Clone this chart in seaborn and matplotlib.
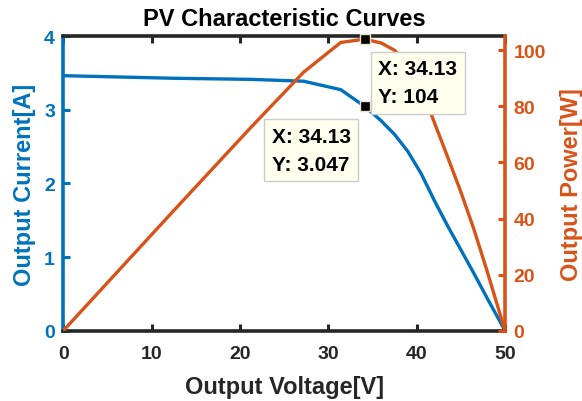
import matplotlib
matplotlib.use("Agg")
import matplotlib.pyplot as plt
import seaborn as sns
import pandas as pd

# PV module measurements
voltage = [0.0, 12.4, 21.2, 27.2, 31.4, 34.13, 36.0, 37.5, 39.0, 40.5, 42.0, 43.5, 45.0, 46.5, 48.0, 50.0]
current = [3.465, 3.43, 3.415, 3.39, 3.275, 3.047, 2.85, 2.667, 2.436, 2.136, 1.769, 1.425, 1.10, 0.774, 0.4375, 0.0]
power = [0.0, 42.5, 72.4, 92.2, 102.8, 104.0, 102.6, 100.0, 95.0, 86.5, 74.3, 62.0, 49.5, 36.0, 21.0, 0.0]
mpp_index = 5  # maximum power point

x_ticks = [0, 10, 20, 30, 40, 50]
i_ticks = [0, 1, 2, 3, 4]
p_ticks = [0, 20, 40, 60, 80, 100]

title = "PV Characteristic Curves"
x_label = "Output Voltage[V]"
i_label = "Output Current[A]"
p_label = "Output Power[W]"

BLUE = "#0072BD"
ORANGE = "#D95319"
DARK = "#262626"
TIP_FACE = "#FFFFEE"
TIP_EDGE = "#CCCCCC"

sns.set_style("white")
plt.rcParams["font.family"] = ["Liberation Sans", "DejaVu Sans"]
plt.rcParams["font.weight"] = "bold"

df = pd.DataFrame({"V": voltage, "I": current, "P": power})

fig = plt.figure(figsize=(5.82, 4.02), dpi=100)
ax = fig.add_axes([0.1088, 0.1749, 0.7589, 0.7323])
ax2 = ax.twinx()

sns.lineplot(data=df, x="V", y="I", ax=ax, color=BLUE, linewidth=2.4)
sns.lineplot(data=df, x="V", y="P", ax=ax2, color=ORANGE, linewidth=2.4)

ax.set_xlim(0, 50)
ax.set_ylim(0, 4)
ax2.set_ylim(0, 105)
ax.set_xticks(x_ticks)
ax.set_yticks(i_ticks)
ax2.set_yticks(p_ticks)

# spines
sw = 2.6
for s in ("top", "bottom"):
    ax.spines[s].set_color(DARK)
    ax.spines[s].set_linewidth(sw)
    ax2.spines[s].set_visible(False)
ax.spines["left"].set_color(BLUE)
ax.spines["left"].set_linewidth(sw)
ax.spines["right"].set_visible(False)
ax2.spines["left"].set_visible(False)
ax2.spines["right"].set_color(ORANGE)
ax2.spines["right"].set_linewidth(sw)

ax.tick_params(axis="x", direction="in", top=True, bottom=True, length=5, width=2.2,
               colors=DARK, labelsize=14, pad=10.5)
ax.tick_params(axis="y", direction="in", length=5, width=2.2, colors=BLUE,
               labelsize=14, pad=6)
ax2.tick_params(axis="y", direction="in", length=5, width=2.2, colors=ORANGE,
                labelsize=14, pad=6)
for lab in ax.get_xticklabels() + ax.get_yticklabels() + ax2.get_yticklabels():
    lab.set_fontweight("bold")

ax.set_xlabel(x_label, fontsize=17, fontweight="bold", color=DARK)
ax.set_ylabel(i_label, fontsize=17, fontweight="bold", color=BLUE)
ax2.set_ylabel(p_label, fontsize=17, fontweight="bold", color=ORANGE)
ax.xaxis.set_label_coords(0.5, -0.152)
ax.yaxis.set_label_coords(-0.062, 0.5)
ax2.yaxis.set_label_coords(1.125, 0.5)
ax.set_title(title, fontsize=17, fontweight="bold", color="black", pad=8)

# data tips at the maximum power point
vm = voltage[mpp_index]
im = current[mpp_index]
pm = power[mpp_index]
tip_box = dict(boxstyle="square,pad=0.36", facecolor=TIP_FACE, edgecolor=TIP_EDGE, linewidth=1)

ax2.plot([vm], [pm], marker="s", markersize=7, color="black",
         markeredgecolor="#E6E6C8", markeredgewidth=1, clip_on=False, zorder=6)
ax2.plot([vm], [im], transform=ax.transData, marker="s", markersize=7, color="black",
         markeredgecolor="#E6E6C8", markeredgewidth=1, clip_on=False, zorder=6)

ax2.annotate(f"X: {vm:.4g}\nY: {pm:.4g}", xy=(vm, pm), xycoords=ax2.transData,
             xytext=(9.5, -14.5), textcoords="offset points", ha="left", va="top",
             multialignment="left",
             fontsize=15, fontweight="bold", color="black", linespacing=1.6,
             bbox=tip_box, zorder=7, annotation_clip=False)
ax2.annotate(f"X: {vm:.4g}\nY: {im:.4g}", xy=(vm, im), xycoords=ax.transData,
             xytext=(-10.0, -14.5), textcoords="offset points", ha="right", va="top",
             multialignment="left",
             fontsize=15, fontweight="bold", color="black", linespacing=1.6,
             bbox=tip_box, zorder=7, annotation_clip=False)

fig.savefig("out.png", dpi=100)
